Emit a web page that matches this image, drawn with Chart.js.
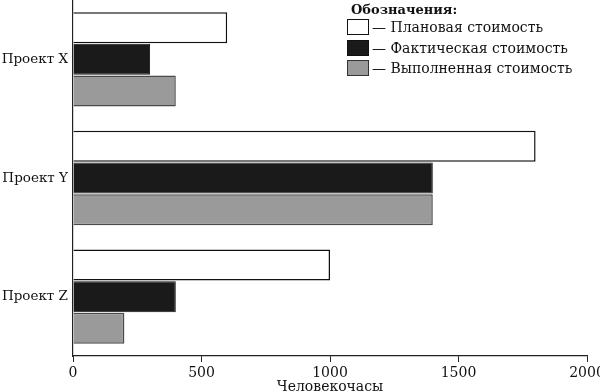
<!DOCTYPE html>
<html><head><meta charset="utf-8">
<script src="https://cdn.jsdelivr.net/npm/chart.js@4"></script>
<style>
html,body{margin:0;padding:0;background:#fff;}
#wrap{position:relative;width:600px;height:392px;overflow:hidden;}
#legend{position:absolute;left:347px;top:1px;font-family:"DejaVu Serif",serif;font-size:14px;color:#111;}
#legend .t{font-weight:bold;font-size:13px;margin-left:4px;height:16px;line-height:18px;}
#legend .r{display:flex;align-items:center;height:20.5px;}
#legend .b{width:20px;height:14px;border:1.5px solid #111;margin-right:3px;box-sizing:content-box;}
</style></head><body>
<div id="wrap"><canvas id="c" width="600" height="392"></canvas><div id="legend"></div></div>
<script>
const categories = ["Проект X", "Проект Y", "Проект Z"];
const seriesNames = ["Плановая стоимость", "Фактическая стоимость", "Выполненная стоимость"];
const planned = [600, 1800, 1000];
const actual = [300, 1400, 400];
const earned = [400, 1400, 200];
const xTicks = [0, 500, 1000, 1500, 2000];
const legendTitle = "Обозначения:";
const axisTitle = "Человекочасы";

const fills = ["#ffffff", "#1a1a1a", "#9a9a9a"];
const borders = ["#111111", "#141414", "#4a4a4a"];
const bw = [1.5, 1, 1.5];
const values = [planned, actual, earned];
const FONT = "'DejaVu Serif', serif";

const chart = new Chart(document.getElementById('c'), {
  type: 'bar',
  data: {
    labels: categories,
    datasets: values.map((v, i) => ({
      label: seriesNames[i], data: v,
      backgroundColor: fills[i], borderColor: borders[i], borderWidth: bw[i],
      categoryPercentage: 0.8, barPercentage: 0.98
    }))
  },
  options: {
    indexAxis: 'y', responsive: false, animation: false,
    layout: {padding: {left: 0, right: 13, top: 0, bottom: -4}},
    plugins: {legend: {display: false}, tooltip: {enabled: false}},
    scales: {
      x: {
        min: 0, max: 2000,
        afterBuildTicks: s => { s.ticks = xTicks.map(v => ({value: v})); },
        afterFit: s => { s.height = 40; s.paddingLeft = 0; s.paddingRight = 0; },
        grid: {drawOnChartArea: false, drawTicks: true, tickLength: 6, color: '#222', lineWidth: 1},
        border: {display: true, color: '#222', width: 1.2},
        ticks: {color: '#111', font: {family: FONT, size: 14}, padding: 3, maxRotation: 0,
                callback: v => String(v)},
        title: {display: true, text: axisTitle, color: '#111', font: {family: FONT, size: 14}, padding: {top: 0, bottom: 0}}
      },
      y: {
        afterFit: s => { s.width = 73; s.paddingTop = 0; s.paddingBottom = 0; },
        grid: {display: false, drawTicks: false},
        border: {display: true, color: '#222', width: 1.2},
        ticks: {color: '#111', font: {family: FONT, size: 13.5}, padding: 5}
      }
    }
  }
});

const lg = document.getElementById('legend');
lg.innerHTML = '<div class="t">' + legendTitle + '</div>' + seriesNames.map((n, i) =>
  '<div class="r"><span class="b" style="background:' + fills[i] + ';border-color:' + (i === 2 ? '#333' : '#111') + '"></span>— ' + n + '</div>').join('');
</script>
</body></html>
